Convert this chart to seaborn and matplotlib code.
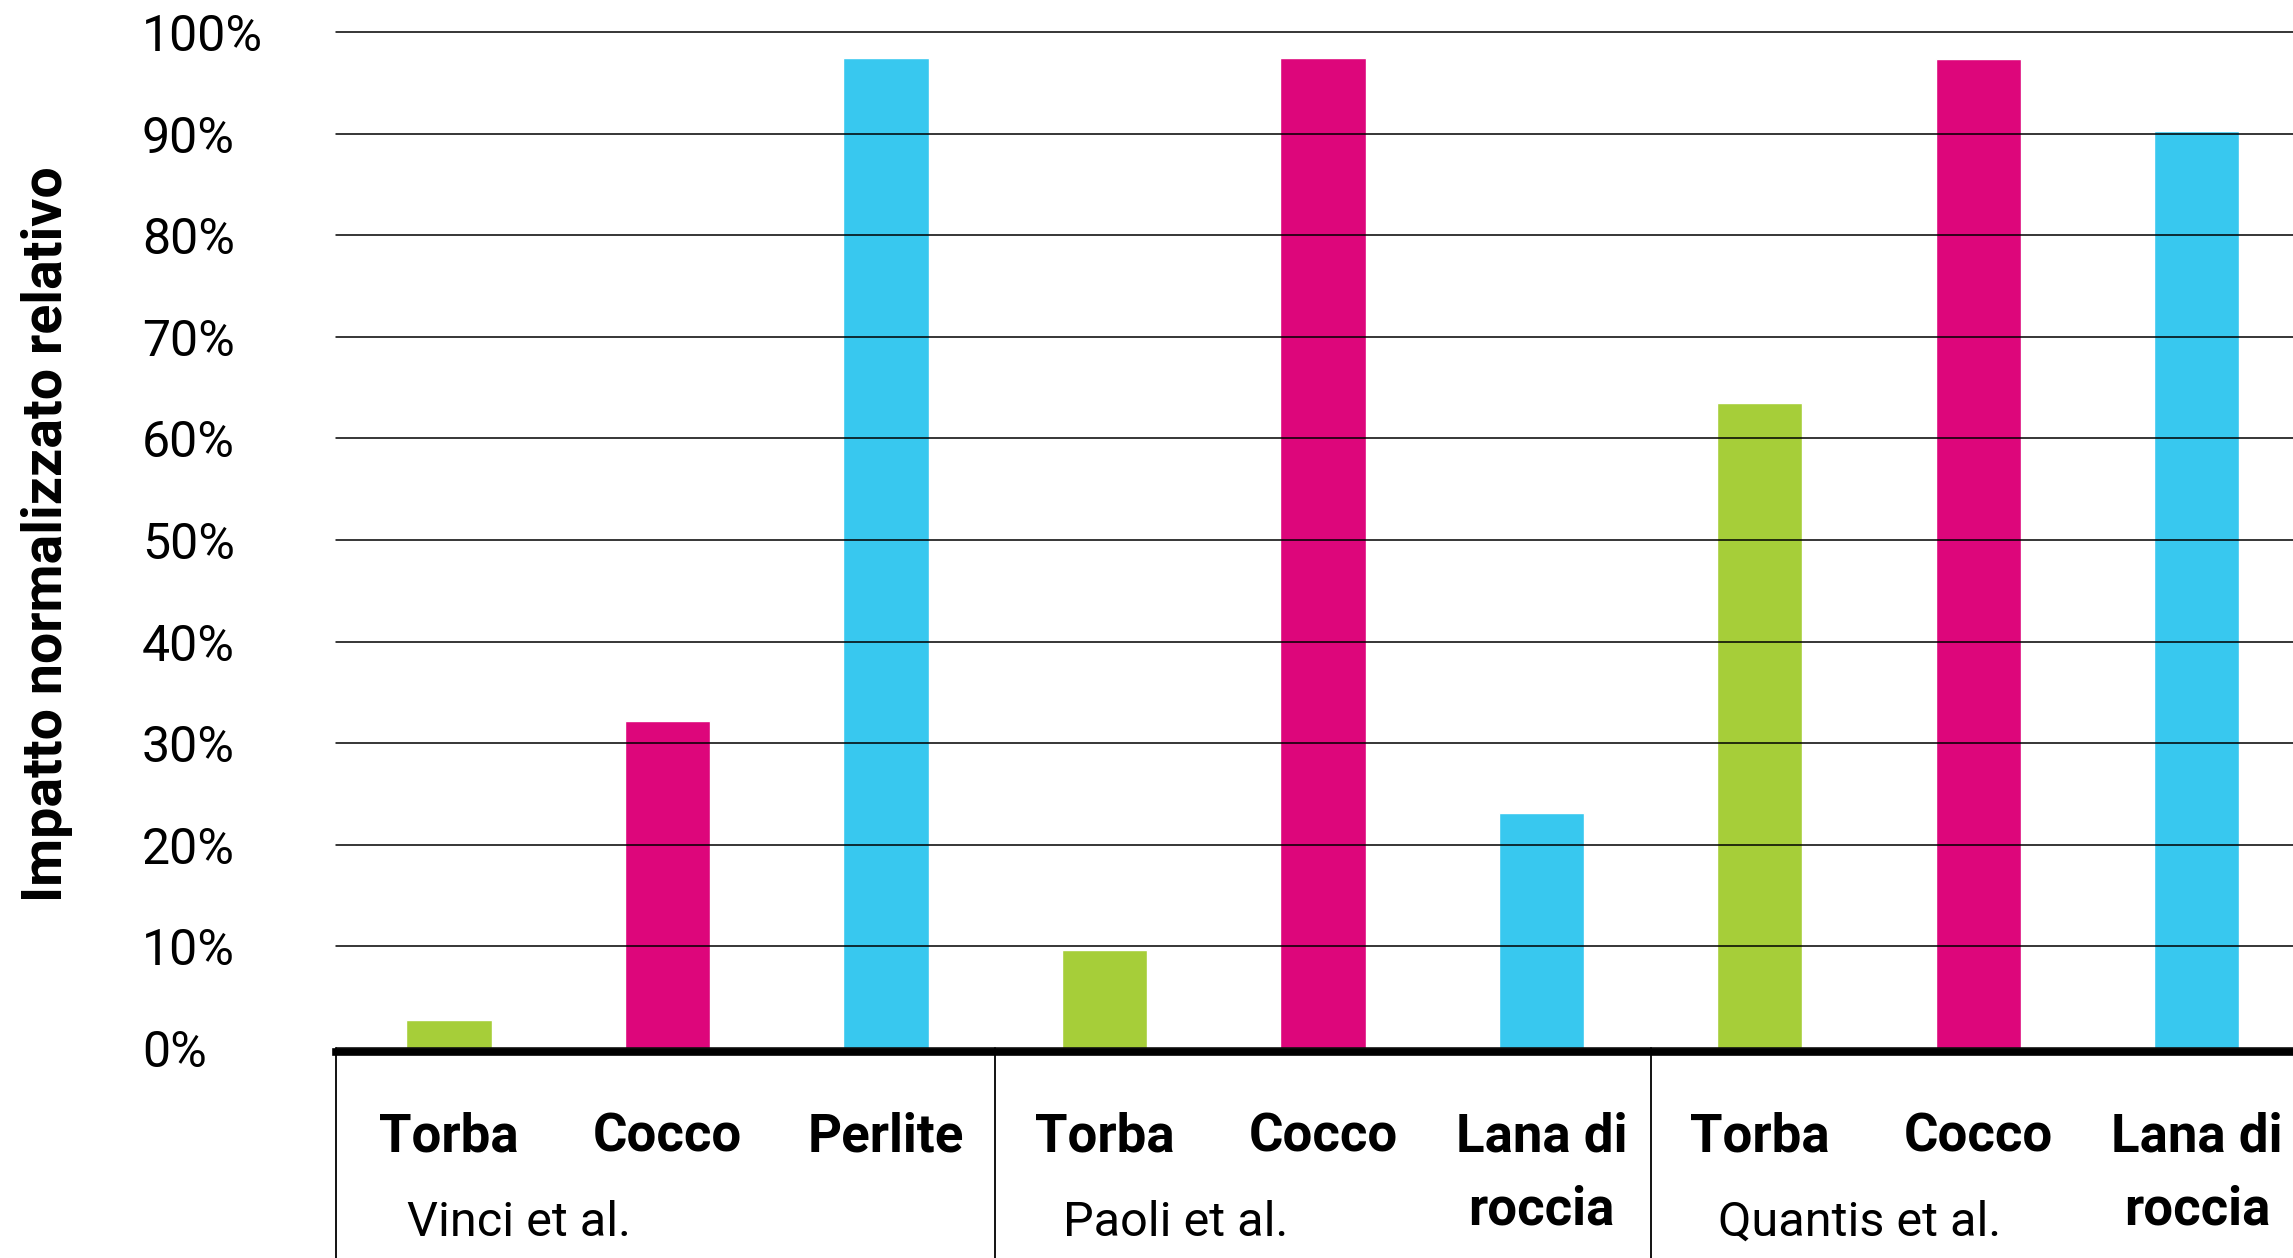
import matplotlib
matplotlib.use("Agg")
import matplotlib.pyplot as plt
import seaborn as sns
import pandas as pd

# Studies, substrates and normalised relative impact (%)
studi = ["Vinci et al.", "Paoli et al.", "Quantis et al."]
substrati = [
    ["Torba", "Cocco", "Perlite"],
    ["Torba", "Cocco", "Lana di roccia"],
    ["Torba", "Cocco", "Lana di roccia"],
]
impatto = [
    [2.8, 32.2, 97.4],
    [9.6, 97.4, 23.1],
    [63.5, 97.3, 90.3],
]
tick_valori = list(range(0, 101, 10))
tick_etichette = [f"{v}%" for v in tick_valori]

colori = {
    "Torba": "#A6CE39",
    "Cocco": "#DD067B",
    "Perlite": "#38C8EF",
    "Lana di roccia": "#38C8EF",
}

righe = []
for studio, mats, vals in zip(studi, substrati, impatto):
    for m, v in zip(mats, vals):
        righe.append({"chiave": f"{studio} | {m}", "studio": studio,
                      "substrato": m, "valore": v})
df = pd.DataFrame(righe)

sns.set_theme(style="white")
plt.rcParams["font.family"] = ["Roboto", "DejaVu Sans"]

W, H = 2293, 1258
fig = plt.figure(figsize=(W / 100, H / 100), dpi=100)
ax = fig.add_axes([336 / W, 210 / H, 1 - 336 / W, 1016 / H])

sns.barplot(data=df, x="chiave", y="valore", hue="substrato", palette=colori,
            dodge=False, width=0.39, saturation=1, legend=False, ax=ax)

ax.set_xlim(-0.517, 8.44)
ax.set_ylim(0, 100)
ax.set_xlabel("")
ax.set_ylabel("")

# horizontal grid drawn over the bars
ax.set_yticks(tick_valori)
ax.set_yticklabels(tick_etichette)
ax.yaxis.grid(True, color="black", linewidth=1.1)
ax.set_axisbelow(False)
for gl in ax.get_ygridlines():
    gl.set_clip_on(False)
ax.tick_params(axis="y", length=0, pad=139.7, labelsize=36, labelcolor="black")

# material names under each bar
ax.set_xticks(range(len(df)))
ax.set_xticklabels([m.replace("Lana di roccia", "Lana di\nroccia") for m in df["substrato"]])
ax.tick_params(axis="x", length=0, pad=43, labelsize=38, labelcolor="black")

for side in ("left", "top", "right"):
    ax.spines[side].set_visible(False)
ax.spines["bottom"].set_linewidth(5.5)
ax.spines["bottom"].set_color("black")
ax.spines["bottom"].set_position(("outward", 2.7))

# boxes separating the studies under the baseline
trans = ax.get_xaxis_transform()
n = 0
bordi = [-0.517]
for mats in substrati[:-1]:
    n += len(mats)
    bordi.append(n - 0.5)
for xb in bordi:
    ax.plot([xb, xb], [0, -0.25], transform=trans, color="black",
            linewidth=1.3, clip_on=False)

# study names
inizio = 0
for studio, mats in zip(studi, substrati):
    ax.text(inizio - 0.19, -0.172, studio, transform=trans, ha="left",
            va="center", fontsize=35, color="black")
    inizio += len(mats)

fig.text(47 / W, 1 - 534 / H, "Impatto normalizzato relativo", rotation=90,
         ha="center", va="center", fontsize=40, fontweight="bold", color="black")

# final label styling
for lab in ax.get_yticklabels():
    lab.set_horizontalalignment("left")
for lab in ax.get_xticklabels():
    lab.set_fontweight("bold")
    lab.set_linespacing(1.55)

fig.savefig("out.png", dpi=100, facecolor="white")
